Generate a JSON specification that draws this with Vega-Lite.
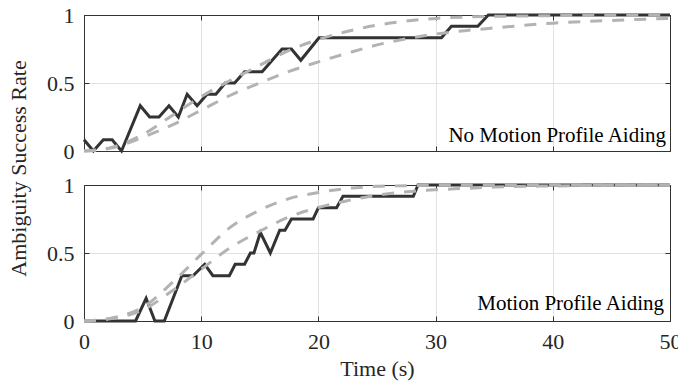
{
  "$schema": "https://vega.github.io/schema/vega-lite/v6.json",
  "background": "white",
  "padding": {"left": 7, "top": 4, "right": 5, "bottom": 2},
  "bounds": "flush",
  "spacing": 34,
  "config": {
    "font": "Times New Roman, Liberation Serif, DejaVu Serif, serif",
    "view": {"stroke": null},
    "axis": {
      "labelFont": "Times New Roman, Liberation Serif, DejaVu Serif, serif", "titleFont": "Times New Roman, Liberation Serif, DejaVu Serif, serif",
      "labelFontSize": 22, "titleFontSize": 22,
      "labelColor": "#262626", "titleColor": "#262626", "titleFontWeight": "normal",
      "domainColor": "#333333", "tickColor": "#333333", "gridColor": "#e2e2e2",
      "tickSize": -5, "domainWidth": 1, "tickWidth": 1,
      "labelFlush": false, "labelOverlap": false
    }
  },
  "datasets": {
    "solidTop": [
      {"t": 0, "v": 0.083}, {"t": 0.8, "v": 0}, {"t": 1.65, "v": 0.083}, {"t": 2.4, "v": 0.083},
      {"t": 3.2, "v": 0}, {"t": 4.8, "v": 0.333}, {"t": 5.6, "v": 0.25}, {"t": 6.4, "v": 0.25},
      {"t": 7.25, "v": 0.333}, {"t": 8.05, "v": 0.25}, {"t": 8.8, "v": 0.417}, {"t": 9.65, "v": 0.333},
      {"t": 10.5, "v": 0.417}, {"t": 11.25, "v": 0.417}, {"t": 12.05, "v": 0.5}, {"t": 12.85, "v": 0.5},
      {"t": 13.7, "v": 0.583}, {"t": 15.2, "v": 0.583}, {"t": 16.9, "v": 0.75}, {"t": 17.7, "v": 0.75},
      {"t": 18.5, "v": 0.667}, {"t": 20.05, "v": 0.833}, {"t": 30.5, "v": 0.833}, {"t": 31.35, "v": 0.917},
      {"t": 33.6, "v": 0.917}, {"t": 34.5, "v": 1}, {"t": 50, "v": 1}
    ],
    "dashTop": [
      {"s": "a", "t": 0, "v": 0}, {"s": "a", "t": 2.5, "v": 0.03}, {"s": "a", "t": 5, "v": 0.12},
      {"s": "a", "t": 7.5, "v": 0.26}, {"s": "a", "t": 10, "v": 0.4}, {"s": "a", "t": 12.5, "v": 0.52},
      {"s": "a", "t": 15, "v": 0.63}, {"s": "a", "t": 17.5, "v": 0.74}, {"s": "a", "t": 20, "v": 0.82},
      {"s": "a", "t": 22.5, "v": 0.88}, {"s": "a", "t": 25, "v": 0.925}, {"s": "a", "t": 27.5, "v": 0.955},
      {"s": "a", "t": 30, "v": 0.975}, {"s": "a", "t": 32.5, "v": 0.985}, {"s": "a", "t": 35, "v": 0.99},
      {"s": "a", "t": 40, "v": 0.995}, {"s": "a", "t": 45, "v": 0.998}, {"s": "a", "t": 50, "v": 1},
      {"s": "b", "t": 0, "v": 0}, {"s": "b", "t": 2.5, "v": 0.025}, {"s": "b", "t": 5, "v": 0.1},
      {"s": "b", "t": 7.5, "v": 0.19}, {"s": "b", "t": 10, "v": 0.3}, {"s": "b", "t": 12.5, "v": 0.41},
      {"s": "b", "t": 15, "v": 0.5}, {"s": "b", "t": 17.5, "v": 0.585}, {"s": "b", "t": 20, "v": 0.655},
      {"s": "b", "t": 22.5, "v": 0.72}, {"s": "b", "t": 25, "v": 0.78}, {"s": "b", "t": 27.5, "v": 0.825},
      {"s": "b", "t": 30, "v": 0.86}, {"s": "b", "t": 32.5, "v": 0.885}, {"s": "b", "t": 35, "v": 0.905},
      {"s": "b", "t": 40, "v": 0.94}, {"s": "b", "t": 45, "v": 0.96}, {"s": "b", "t": 50, "v": 0.975}
    ],
    "solidBottom": [
      {"t": 0, "v": 0}, {"t": 4.4, "v": 0}, {"t": 5.3, "v": 0.167}, {"t": 6.05, "v": 0},
      {"t": 6.85, "v": 0}, {"t": 8.35, "v": 0.333}, {"t": 9.3, "v": 0.333}, {"t": 10.3, "v": 0.417},
      {"t": 11.0, "v": 0.333}, {"t": 12.4, "v": 0.333}, {"t": 12.9, "v": 0.417}, {"t": 13.7, "v": 0.417},
      {"t": 14.2, "v": 0.5}, {"t": 14.5, "v": 0.5}, {"t": 15.05, "v": 0.65}, {"t": 15.9, "v": 0.5},
      {"t": 16.7, "v": 0.667}, {"t": 17.15, "v": 0.667}, {"t": 17.7, "v": 0.75}, {"t": 19.55, "v": 0.75},
      {"t": 20.0, "v": 0.833}, {"t": 21.55, "v": 0.833}, {"t": 22.1, "v": 0.917}, {"t": 28.1, "v": 0.917},
      {"t": 28.5, "v": 1}, {"t": 50, "v": 1}
    ],
    "dashBottom": [
      {"s": "a", "t": 0, "v": 0}, {"s": "a", "t": 2.5, "v": 0.025}, {"s": "a", "t": 5, "v": 0.1},
      {"s": "a", "t": 7.5, "v": 0.28}, {"s": "a", "t": 10, "v": 0.49}, {"s": "a", "t": 12.5, "v": 0.69},
      {"s": "a", "t": 15, "v": 0.815}, {"s": "a", "t": 17.5, "v": 0.9}, {"s": "a", "t": 20, "v": 0.945},
      {"s": "a", "t": 22.5, "v": 0.975}, {"s": "a", "t": 25, "v": 0.99}, {"s": "a", "t": 27.5, "v": 0.995},
      {"s": "a", "t": 30, "v": 1}, {"s": "a", "t": 50, "v": 1},
      {"s": "b", "t": 0, "v": 0}, {"s": "b", "t": 2.5, "v": 0.02}, {"s": "b", "t": 5, "v": 0.08},
      {"s": "b", "t": 7.5, "v": 0.22}, {"s": "b", "t": 10, "v": 0.38}, {"s": "b", "t": 12.5, "v": 0.54},
      {"s": "b", "t": 15, "v": 0.66}, {"s": "b", "t": 17.5, "v": 0.765}, {"s": "b", "t": 20, "v": 0.835},
      {"s": "b", "t": 22.5, "v": 0.885}, {"s": "b", "t": 25, "v": 0.925}, {"s": "b", "t": 27.5, "v": 0.95},
      {"s": "b", "t": 30, "v": 0.965}, {"s": "b", "t": 32.5, "v": 0.975}, {"s": "b", "t": 35, "v": 0.985},
      {"s": "b", "t": 40, "v": 0.993}, {"s": "b", "t": 50, "v": 1}
    ]
  },
  "vconcat": [
    {
      "width": 586, "height": 136,
      "resolve": {"axis": {"x": "independent", "y": "independent"}},
      "layer": [
        {
          "data": {"name": "solidTop"},
          "mark": {"type": "line", "color": "#333333", "strokeWidth": 3},
          "encoding": {
            "x": {"field": "t", "type": "quantitative", "scale": {"domain": [0, 50], "nice": false},
                  "axis": {"orient": "bottom", "values": [0, 10, 20, 30, 40, 50], "labels": false, "title": null, "grid": true}},
            "y": {"field": "v", "type": "quantitative", "scale": {"domain": [0, 1], "nice": false},
                  "axis": {"orient": "left", "values": [0, 0.5, 1], "format": "~g", "grid": true, "labelPadding": 15,
                           "title": "Ambiguity Success Rate", "titleY": 153, "titleX": -66, "titleBaseline": "middle", "titleAngle": -90, "titleAlign": "center"}}
          }
        },
        {
          "data": {"name": "dashTop"},
          "mark": {"type": "line", "color": "#b3b3b3", "strokeWidth": 3, "strokeDash": [12, 10], "interpolate": "monotone"},
          "encoding": {
            "x": {"field": "t", "type": "quantitative",
                  "axis": {"orient": "top", "values": [0, 10, 20, 30, 40, 50], "labels": false, "title": null, "grid": false}},
            "y": {"field": "v", "type": "quantitative",
                  "axis": {"orient": "right", "values": [0, 0.5, 1], "labels": false, "title": null, "grid": false}},
            "detail": {"field": "s"}
          }
        },
        {
          "data": {"values": [{"t": 50, "v": 0, "label": "No Motion Profile Aiding"}]},
          "mark": {"type": "text", "align": "right", "baseline": "alphabetic", "dx": -4, "dy": -9, "fontSize": 21, "font": "Times New Roman, Liberation Serif, DejaVu Serif, serif", "color": "#000000"},
          "encoding": {
            "x": {"field": "t", "type": "quantitative", "axis": null},
            "y": {"field": "v", "type": "quantitative", "axis": null},
            "text": {"field": "label"}
          }
        }
      ]
    },
    {
      "width": 586, "height": 136,
      "resolve": {"axis": {"x": "independent", "y": "independent"}},
      "layer": [
        {
          "data": {"name": "solidBottom"},
          "mark": {"type": "line", "color": "#333333", "strokeWidth": 3},
          "encoding": {
            "x": {"field": "t", "type": "quantitative", "scale": {"domain": [0, 50], "nice": false},
                  "axis": {"orient": "bottom", "values": [0, 10, 20, 30, 40, 50], "format": "d", "labelPadding": 15, "title": "Time (s)", "titlePadding": 6, "grid": true}},
            "y": {"field": "v", "type": "quantitative", "scale": {"domain": [0, 1], "nice": false},
                  "axis": {"orient": "left", "values": [0, 0.5, 1], "format": "~g", "grid": true, "labelPadding": 15, "title": null}}
          }
        },
        {
          "data": {"name": "dashBottom"},
          "mark": {"type": "line", "color": "#b3b3b3", "strokeWidth": 3, "strokeDash": [12, 10], "interpolate": "monotone"},
          "encoding": {
            "x": {"field": "t", "type": "quantitative",
                  "axis": {"orient": "top", "values": [0, 10, 20, 30, 40, 50], "labels": false, "title": null, "grid": false}},
            "y": {"field": "v", "type": "quantitative",
                  "axis": {"orient": "right", "values": [0, 0.5, 1], "labels": false, "title": null, "grid": false}},
            "detail": {"field": "s"}
          }
        },
        {
          "data": {"values": [{"t": 50, "v": 0, "label": "Motion Profile Aiding"}]},
          "mark": {"type": "text", "align": "right", "baseline": "alphabetic", "dx": -6, "dy": -11, "fontSize": 21, "font": "Times New Roman, Liberation Serif, DejaVu Serif, serif", "color": "#000000"},
          "encoding": {
            "x": {"field": "t", "type": "quantitative", "axis": null},
            "y": {"field": "v", "type": "quantitative", "axis": null},
            "text": {"field": "label"}
          }
        }
      ]
    }
  ]
}
